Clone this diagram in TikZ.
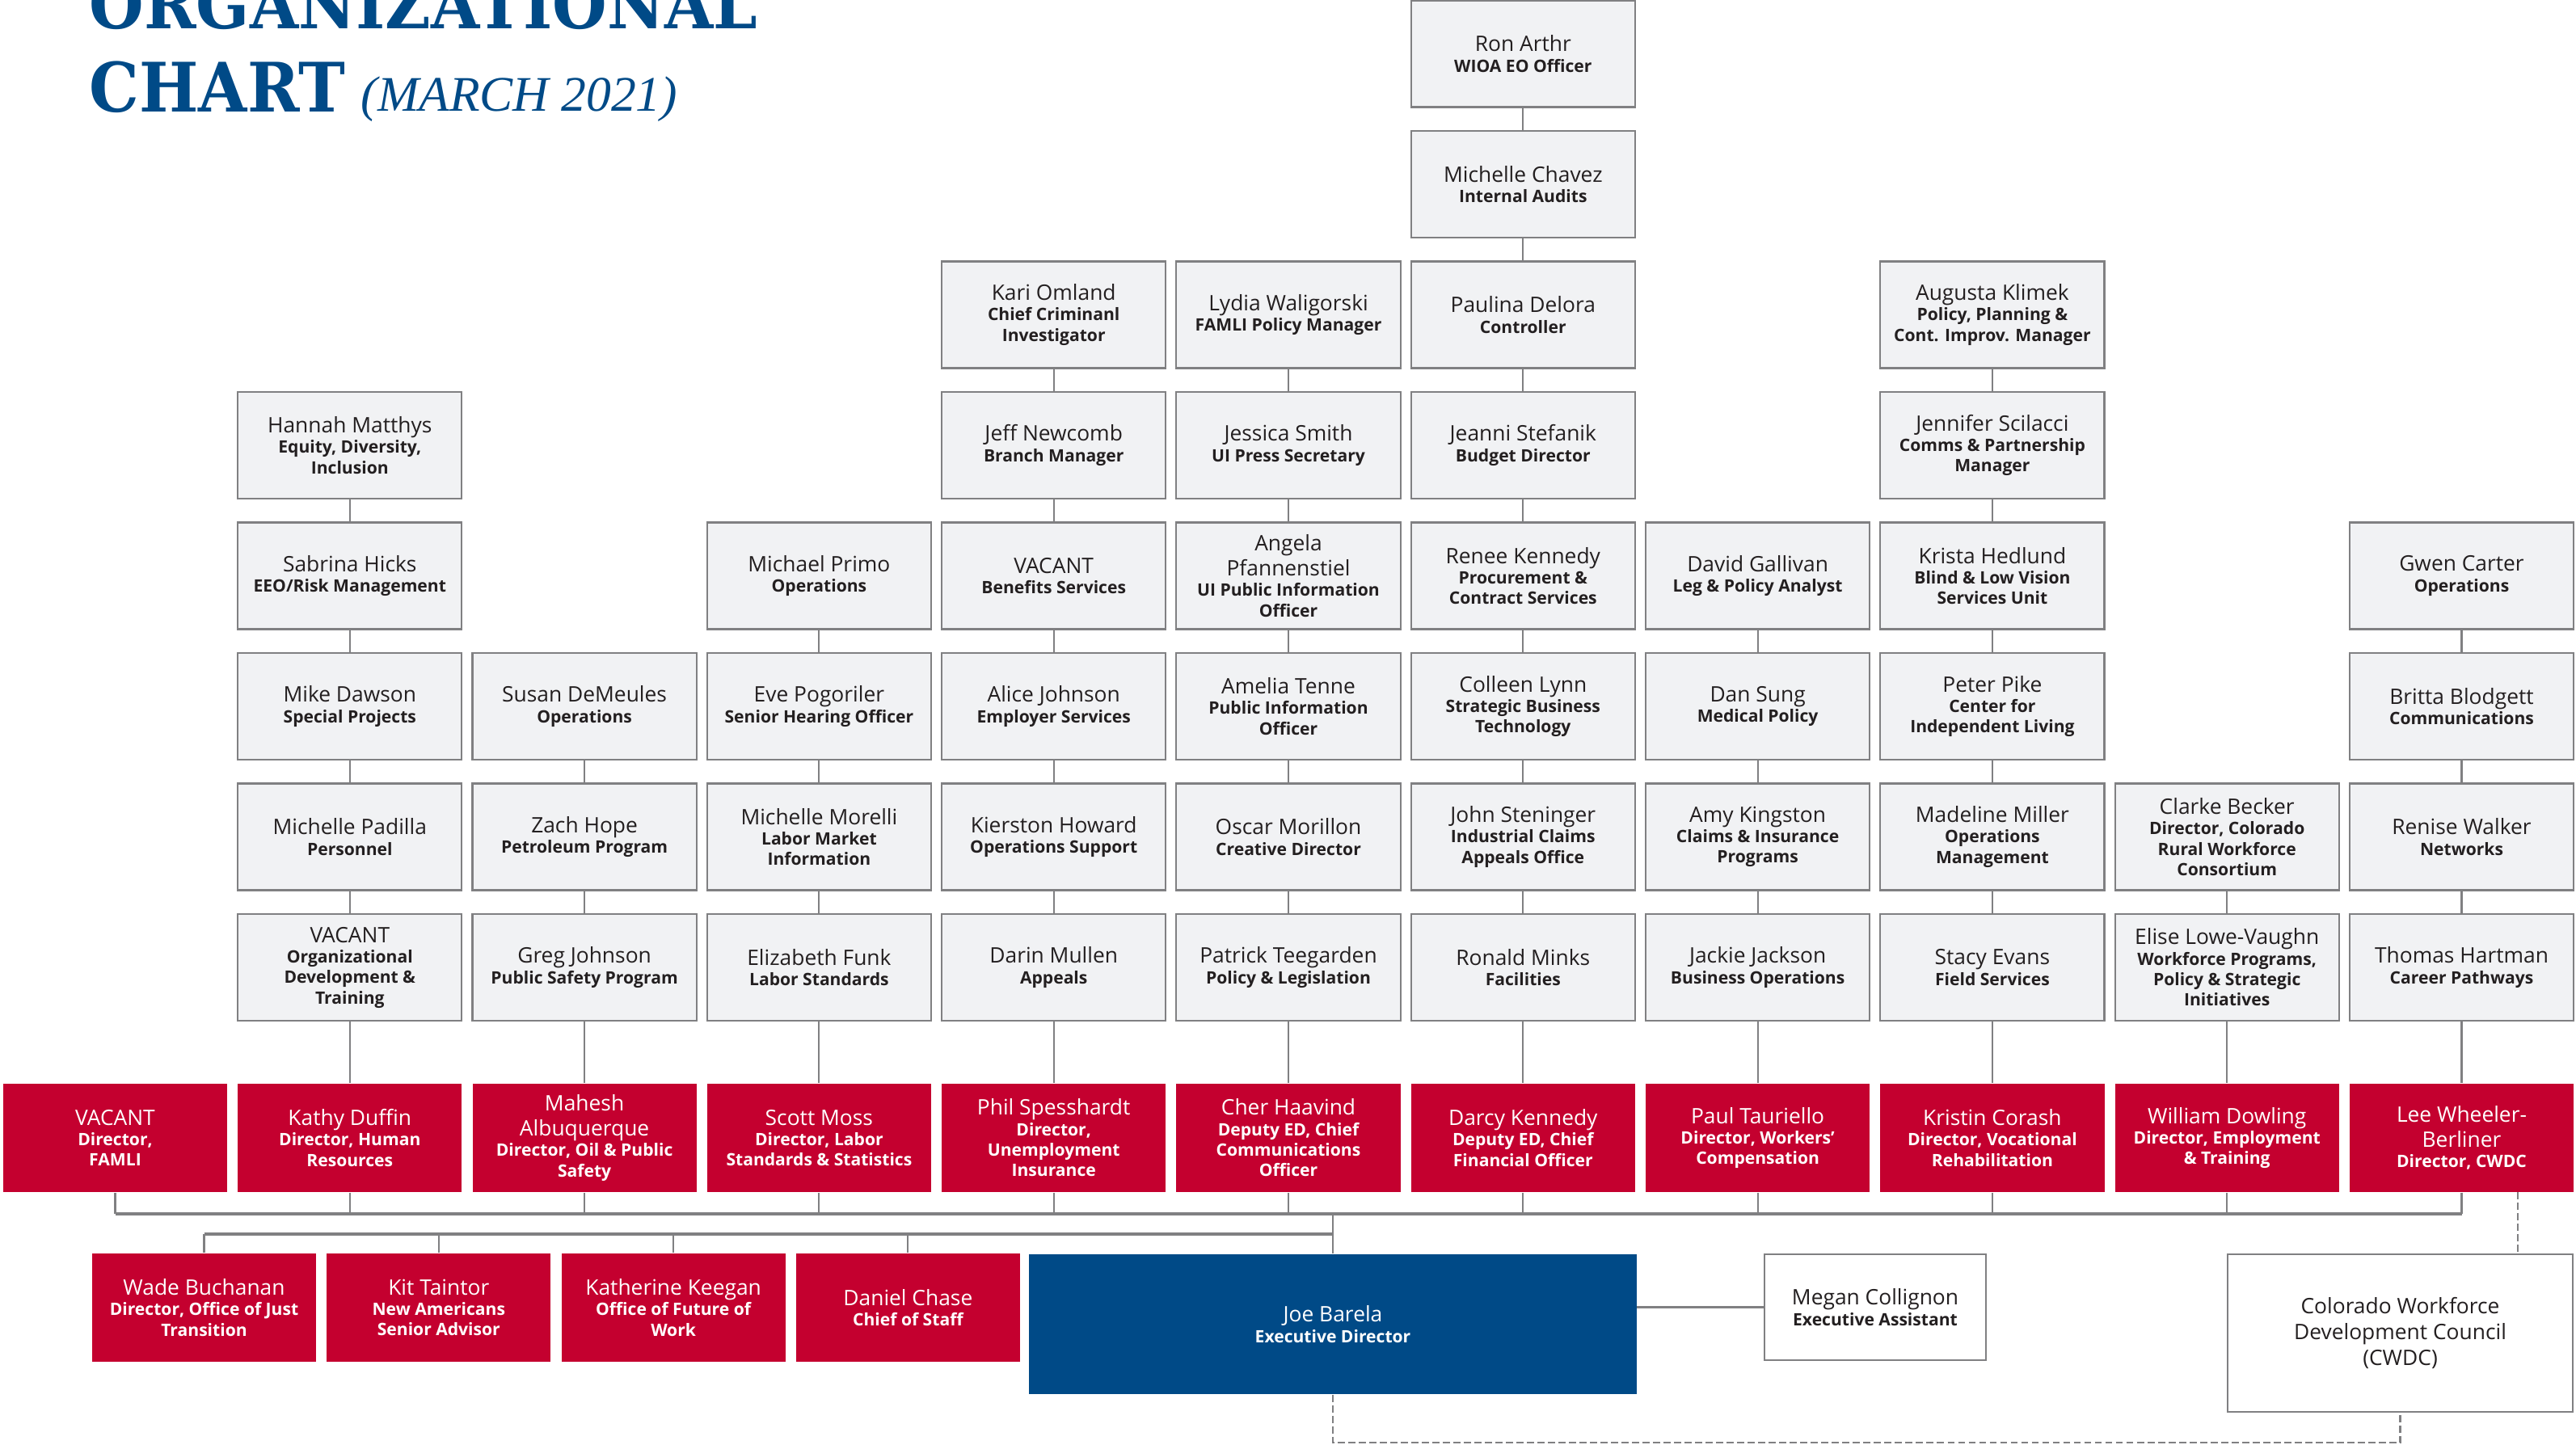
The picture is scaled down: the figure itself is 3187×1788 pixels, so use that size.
\documentclass[tikz,border=0pt]{standalone}
\usepackage{fontspec}
\setmainfont{Open Sans}
\newfontfamily\slabfont{DejaVu Serif}[FakeStretch=0.92]
\newfontfamily\datefont{Liberation Serif}
\usetikzlibrary{calc}

\definecolor{boxgray}{RGB}{241,242,244}
\definecolor{linegray}{RGB}{128,128,130}
\definecolor{textdark}{RGB}{35,31,32}
\definecolor{deptred}{RGB}{196,0,47}
\definecolor{edblue}{RGB}{0,74,135}

\newcommand{\who}[2]{{\fontsize{7.5}{8.8}\selectfont #1\par}{\fontsize{6}{7.2}\selectfont\bfseries #2\par}}

\tikzset{
  staff/.style={draw=linegray, fill=boxgray, line width=0.6pt, text=textdark,
    minimum width=2.77cm, minimum height=1.32cm, text width=2.66cm,
    inner xsep=0.055cm, inner ysep=0pt, align=flush center},
  dept/.style={fill=deptred, text=white, minimum width=2.77cm, minimum height=1.34cm,
    text width=2.66cm, inner xsep=0.055cm, inner ysep=0pt, align=flush center},
  link/.style={draw=linegray, line width=0.6pt},
  bus/.style={draw=linegray, line width=0.9pt},
  dashlink/.style={draw=linegray, line width=0.6pt, dash pattern=on 2.5pt off 1.2pt}
}

\begin{document}
\begin{tikzpicture}[x=0.01cm, y=-0.01cm]
    \fill[white] (0,0) rectangle (3187,1788);
    \useasboundingbox (0,0) rectangle (3187,1788);

    % Heading
    \node[anchor=base west, inner sep=0, text=edblue, font=\slabfont\bfseries\fontsize{24}{24}\selectfont] (head1) at (110,36) {ORGANIZATIONAL};
    \node[anchor=base west, inner sep=0, text=edblue, font=\slabfont\bfseries\fontsize{24}{24}\selectfont] (head2) at (110,139) {CHART};
    \node[anchor=base west, inner sep=0, text=edblue, font=\datefont\itshape\fontsize{17.5}{17.5}\selectfont] (date) at (446,138) {(MARCH 2021)};

    % Staff boxes (column/row)
    \foreach \c/\r/\txt in {
      6/0/{\who{Ron Arthr}{WIOA EO Officer}},
      6/1/{\who{Michelle Chavez}{Internal Audits}},
      4/2/{\who{Kari Omland}{Chief Criminanl\\Investigator}},
      5/2/{\who{Lydia Waligorski}{FAMLI Policy Manager}},
      6/2/{\who{Paulina Delora}{Controller}},
      8/2/{\who{Augusta Klimek}{Policy, Planning \&\\Cont. Improv. Manager}},
      1/3/{\who{Hannah Matthys}{Equity, Diversity,\\Inclusion}},
      4/3/{\who{Jeff Newcomb}{Branch Manager}},
      5/3/{\who{Jessica Smith}{UI Press Secretary}},
      6/3/{\who{Jeanni Stefanik}{Budget Director}},
      8/3/{\who{Jennifer Scilacci}{Comms \& Partnership\\Manager}},
      1/4/{\who{Sabrina Hicks}{EEO/Risk Management}},
      3/4/{\who{Michael Primo}{Operations}},
      4/4/{\who{VACANT}{Benefits Services}},
      5/4/{\who{Angela\\Pfannenstiel}{UI Public Information\\Officer}},
      6/4/{\who{Renee Kennedy}{Procurement \&\\Contract Services}},
      7/4/{\who{David Gallivan}{Leg \& Policy Analyst}},
      8/4/{\who{Krista Hedlund}{Blind \& Low Vision\\Services Unit}},
      10/4/{\who{Gwen Carter}{Operations}},
      1/5/{\who{Mike Dawson}{Special Projects}},
      2/5/{\who{Susan DeMeules}{Operations}},
      3/5/{\who{Eve Pogoriler}{Senior Hearing Officer}},
      4/5/{\who{Alice Johnson}{Employer Services}},
      5/5/{\who{Amelia Tenne}{Public Information\\Officer}},
      6/5/{\who{Colleen Lynn}{Strategic Business\\Technology}},
      7/5/{\who{Dan Sung}{Medical Policy}},
      8/5/{\who{Peter Pike}{Center for\\Independent Living}},
      10/5/{\who{Britta Blodgett}{Communications}},
      1/6/{\who{Michelle Padilla}{Personnel}},
      2/6/{\who{Zach Hope}{Petroleum Program}},
      3/6/{\who{Michelle Morelli}{Labor Market\\Information}},
      4/6/{\who{Kierston Howard}{Operations Support}},
      5/6/{\who{Oscar Morillon}{Creative Director}},
      6/6/{\who{John Steninger}{Industrial Claims\\Appeals Office}},
      7/6/{\who{Amy Kingston}{Claims \& Insurance\\Programs}},
      8/6/{\who{Madeline Miller}{Operations\\Management}},
      9/6/{\who{Clarke Becker}{Director, Colorado\\Rural Workforce\\Consortium}},
      10/6/{\who{Renise Walker}{Networks}},
      1/7/{\who{VACANT}{Organizational\\Development \&\\Training}},
      2/7/{\who{Greg Johnson}{Public Safety Program}},
      3/7/{\who{Elizabeth Funk}{Labor Standards}},
      4/7/{\who{Darin Mullen}{Appeals}},
      5/7/{\who{Patrick Teegarden}{Policy \& Legislation}},
      6/7/{\who{Ronald Minks}{Facilities}},
      7/7/{\who{Jackie Jackson}{Business Operations}},
      8/7/{\who{Stacy Evans}{Field Services}},
      9/7/{\who{Elise Lowe-Vaughn}{Workforce Programs,\\Policy \& Strategic\\Initiatives}},
      10/7/{\who{Thomas Hartman}{Career Pathways}}}
      \node[staff] (g-\c-\r) at ({142.5+290.3*\c},{66.5+161.5*\r}) {\txt};

    % Division heads
    \foreach \c/\txt in {
      0/{\who{VACANT}{Director,\\FAMLI}},
      1/{\who{Kathy Duffin}{Director, Human\\Resources}},
      2/{\who{Mahesh\\Albuquerque}{Director, Oil \& Public\\Safety}},
      3/{\who{Scott Moss}{Director, Labor\\Standards \& Statistics}},
      4/{\who{Phil Spesshardt}{Director,\\Unemployment\\Insurance}},
      5/{\who{Cher Haavind}{Deputy ED, Chief\\Communications\\Officer}},
      6/{\who{Darcy Kennedy}{Deputy ED, Chief\\Financial Officer}},
      7/{\who{Paul Tauriello}{Director, Workers’\\Compensation}},
      8/{\who{Kristin Corash}{Director, Vocational\\Rehabilitation}},
      9/{\who{William Dowling}{Director, Employment\\\& Training}},
      10/{\who{Lee Wheeler-\\Berliner}{Director, CWDC}}}
      \node[dept] (d-\c) at ({142.5+290.3*\c},1408) {\txt};

    % Advisors
    \foreach \j/\txt in {
      0/{\who{Wade Buchanan}{Director, Office of Just\\Transition}},
      1/{\who{Kit Taintor}{New Americans\\Senior Advisor}},
      2/{\who{Katherine Keegan}{Office of Future of\\Work}},
      3/{\who{Daniel Chase}{Chief of Staff}}}
      \node[dept] (a-\j) at ({252.5+290.3*\j},1618) {\txt};

    % Director and council
    \node[fill=edblue, text=white, minimum width=7.51cm, minimum height=1.73cm, text width=3cm, align=flush center] (joe) at (1649,1638.5) {\who{Joe Barela}{Executive Director}};
    \node[draw=linegray, fill=white, line width=0.6pt, text=textdark, minimum width=2.74cm, minimum height=1.31cm, text width=2.6cm, inner xsep=0.07cm, align=flush center] (megan) at (2320,1617.5) {\who{Megan Collignon}{Executive Assistant}};
    \node[draw=linegray, fill=white, line width=0.6pt, text=textdark, minimum width=4.27cm, minimum height=1.95cm, align=center, font=\fontsize{7.5}{9}\selectfont] (cwdc) at (2969.5,1649.5) {Colorado Workforce\\Development Council\\(CWDC)};

    % Column links
    \foreach \c/\s in {1/3,2/5,3/4,4/2,5/2,6/0,7/4,8/2,9/6,10/4}{
      \foreach \r in {\s,...,6}{
        \pgfmathtruncatemacro\n{\r+1}
        \draw[link] (g-\c-\r.south) -- (g-\c-\n.north);
      }
      \draw[link] (g-\c-7.south) -- (d-\c.north);
    }

    % Buses
    \coordinate (busl) at (142.5,1502);
    \coordinate (busr) at (3045.5,1502);
    \coordinate (staffl) at (252.5,1527);
    \draw[bus] (busl) -- (busr);
    \foreach \c in {0,...,10}
      \draw[link] (d-\c.south) -- (d-\c.south |- busl);
    \draw[link] (joe.north) -- (joe.north |- busl);
    \draw[bus] (staffl) -- (staffl -| joe.north);
    \foreach \j in {0,...,3}
      \draw[link] (a-\j.north) -- (a-\j.north |- staffl);
    \draw[bus] (megan.west) -- (megan.west -| joe.east);

    % Council links
    \coordinate (tap) at (3115,1475);
    \coordinate (dashfoot) at (1649,1785);
    \draw[dashlink] (tap) -- (tap |- cwdc.north);
    \draw[dashlink] (joe.south) -- (dashfoot) -| (cwdc.south);
\end{tikzpicture}
\end{document}
